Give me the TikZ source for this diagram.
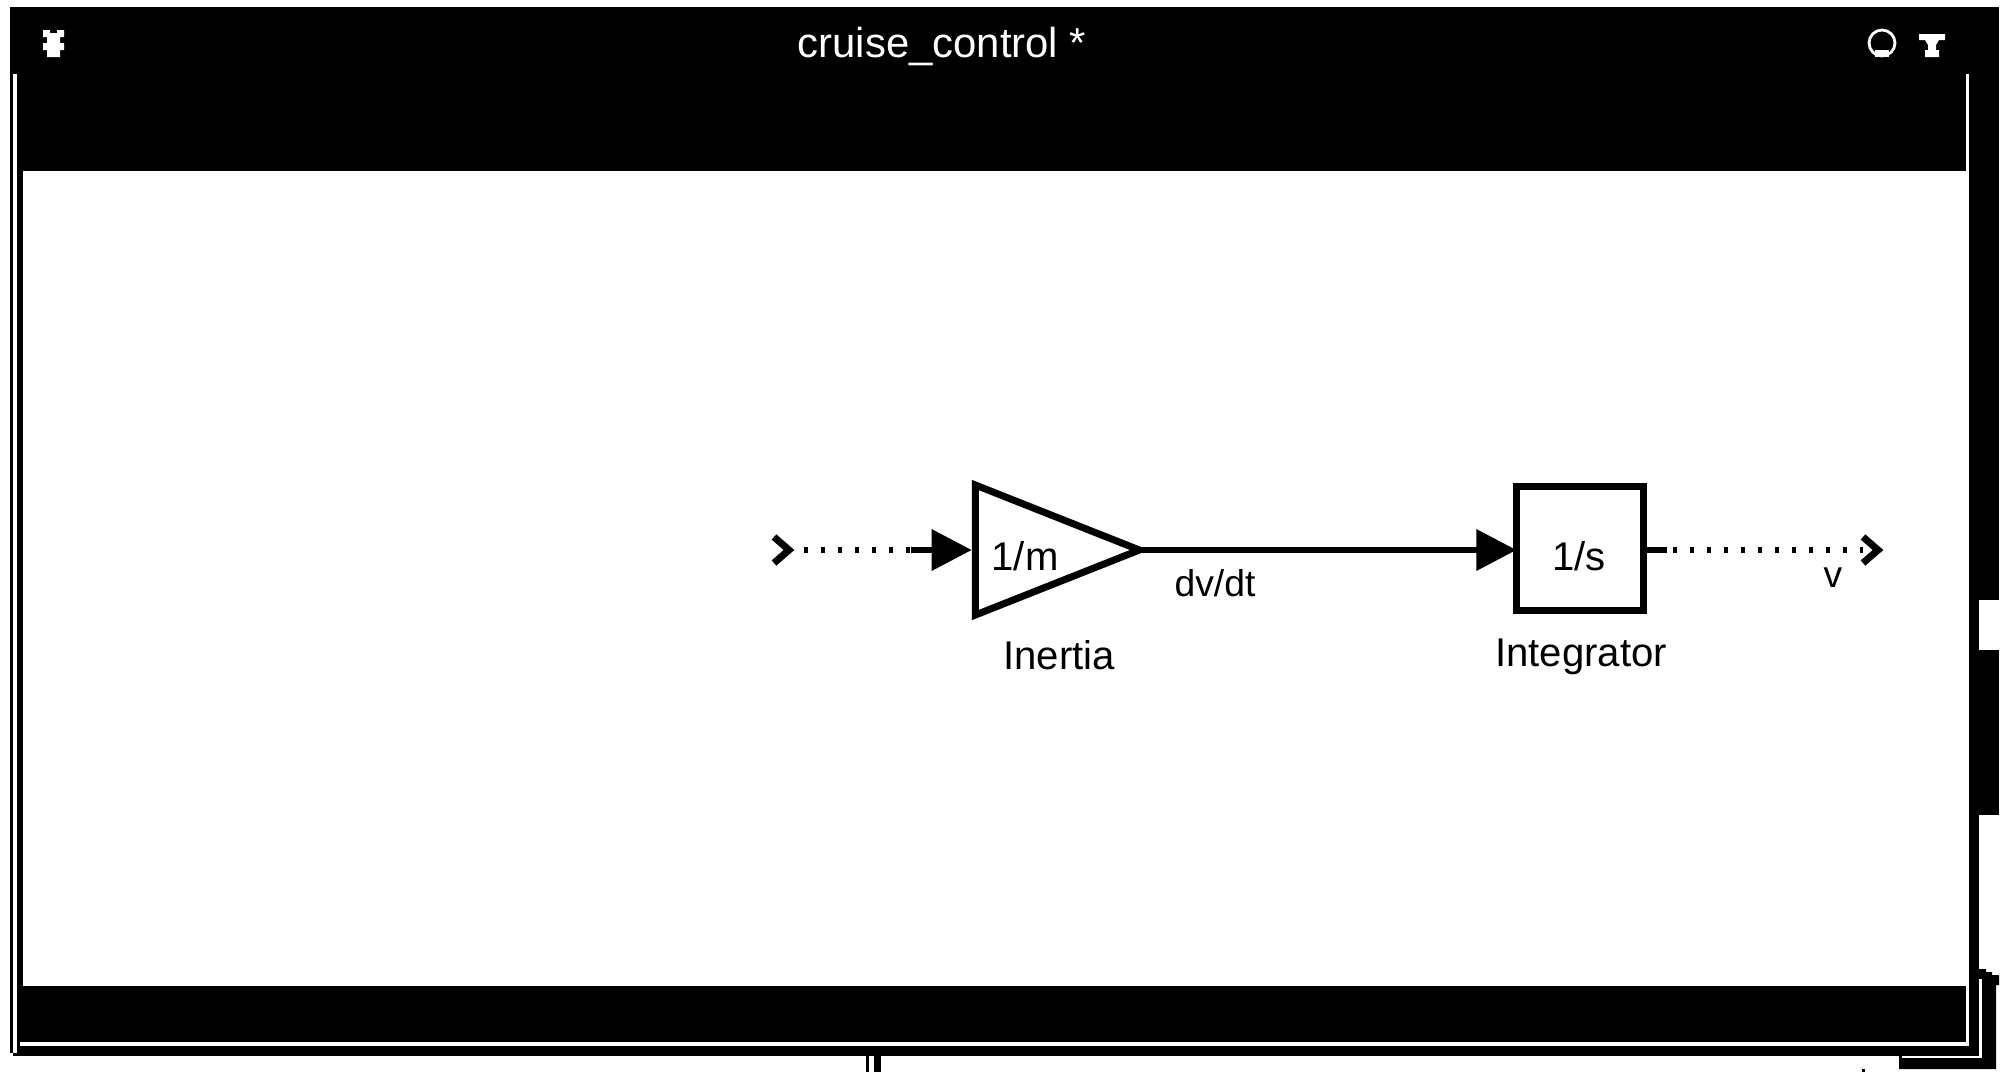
\documentclass[tikz,border=0pt]{standalone}
\usepackage{fontspec}
\setmainfont{Liberation Sans}
\usetikzlibrary{arrows.meta,shapes.geometric}
\tikzset{
  ink/.style={fill=black,draw=none},
  paper/.style={fill=white,draw=none},
  blocktext/.style={font=\fontsize{11.4}{13}\selectfont},
  signaltext/.style={font=\fontsize{10.6}{12}\selectfont},
  titletext/.style={font=\fontsize{11.9}{14}\selectfont,text=white},
  gainblock/.style={draw,line width=.07cm,isosceles triangle,isosceles triangle stretches,
    minimum width=1.30cm,minimum height=1.64cm,inner sep=0pt},
  intblock/.style={draw,line width=.07cm,rectangle,minimum width=1.27cm,minimum height=1.24cm,
    inner sep=0pt,outer sep=0pt},
  signal/.style={line width=.065cm},
  signalarrow/.style={signal,-{Triangle[length=.4cm,width=.4cm]}},
  signaldots/.style={signal,dash pattern=on .04cm off .13cm},
  portmark/.style={line width=.07cm}
}
\begin{document}
\begin{tikzpicture}[x=.01cm,y=-.01cm]
  \useasboundingbox (0,0) rectangle (2000,1072);
  \fill[ink] (10,7) rectangle (1999,171);
  \fill[ink] (10,171) rectangle (23,1053);
  \fill[ink] (13,986) rectangle (1979,1056);
  \fill[ink] (1966,171) rectangle (1979,1056);
  \fill[ink] (1979,171) rectangle (1999,600);
  \fill[ink] (1979,650) rectangle (1999,815);
  \fill[ink] (1979,969) -- (1986,969) -- (1986,972) -- (1992,972) -- (1992,975)
    -- (1999,975) -- (1999,985) -- (1996,985) -- (1996,1069) -- (1899,1069)
    -- (1899,1056) -- (1979,1056) -- cycle;
  \fill[ink] (866,1056) rectangle (868.5,1072);
  \fill[ink] (873.5,1056) rectangle (881,1072);
  \fill[ink] (1862,1069) rectangle (1865,1072);
  \fill[paper] (13,74) rectangle (17,1053);
  \fill[paper] (1966,74) rectangle (1969,1046);
  \fill[paper] (20,1042) rectangle (1969,1046);
  \fill[paper] (1979,979) rectangle (1982,1058);
  \fill[paper] (1902,1056) rectangle (1982,1058);
  \fill[paper] (43,30) -- (50,30) -- (50,33) -- (57,33) -- (57,30) -- (64,30) -- (64,37)
    -- (60,37) -- (60,43) -- (64,43) -- (64,50) -- (60,50) -- (60,57) -- (47,57)
    -- (47,50) -- (43,50) -- (43,43) -- (47,43) -- (47,37) -- (43,37) -- cycle;
  \draw[white,line width=.028cm] (1882,43) circle (13);
  \fill[paper] (1875,50) rectangle (1889,57);
  \fill[paper] (1919,34) -- (1945,34) -- (1945,40) -- (1939,40) -- (1936,45) -- (1936,50)
    -- (1939,50) -- (1939,57) -- (1925,57) -- (1925,50) -- (1928,50) -- (1928,45)
    -- (1925,40) -- (1919,40) -- cycle;
  \node[titletext,anchor=base west,inner sep=0pt] (windowtitle) at (797,57) {cruise\_control *};
  \node[gainblock,anchor=apex] (inertia) at (1148.5,550) {};
  \node[blocktext] (inertiagain) at (1025,556) {1/m};
  \node[intblock] (integrator) at (1580,548.5) {};
  \node[blocktext] (integratorgain) at (1579,556) {1/s};
  \node[blocktext] (inertianame) at (1059,655) {Inertia};
  \node[blocktext] (integratorname) at (1581,657) {Integrator};
  \node[signaltext] (dvdtname) at (1215,583) {dv/dt};
  \node[signaltext] (vname) at (1833,578) {v};
  \coordinate (inport) at (774,550);
  \coordinate (indots) at (911,550);
  \coordinate (outdots) at (1667,550);
  \coordinate (outport) at (1863,550);
  \draw[portmark] ([yshift=.13cm]inport) -- ([xshift=.15cm]inport) -- ([yshift=-.13cm]inport);
  \draw[portmark] ([yshift=.13cm]outport) -- ([xshift=.15cm]outport) -- ([yshift=-.13cm]outport);
  \draw[signaldots] ([xshift=.30cm]inport) -- (indots);
  \draw[signalarrow] (indots) -- (inertia.west |- indots);
  \draw[signalarrow,shorten <=-.1cm] (inertia.apex) -- (integrator.west |- inertia.apex);
  \draw[signal] (integrator.east |- outdots) -- (outdots);
  \draw[signaldots] ([xshift=.06cm]outdots) -- (outport);
\end{tikzpicture}
\end{document}
